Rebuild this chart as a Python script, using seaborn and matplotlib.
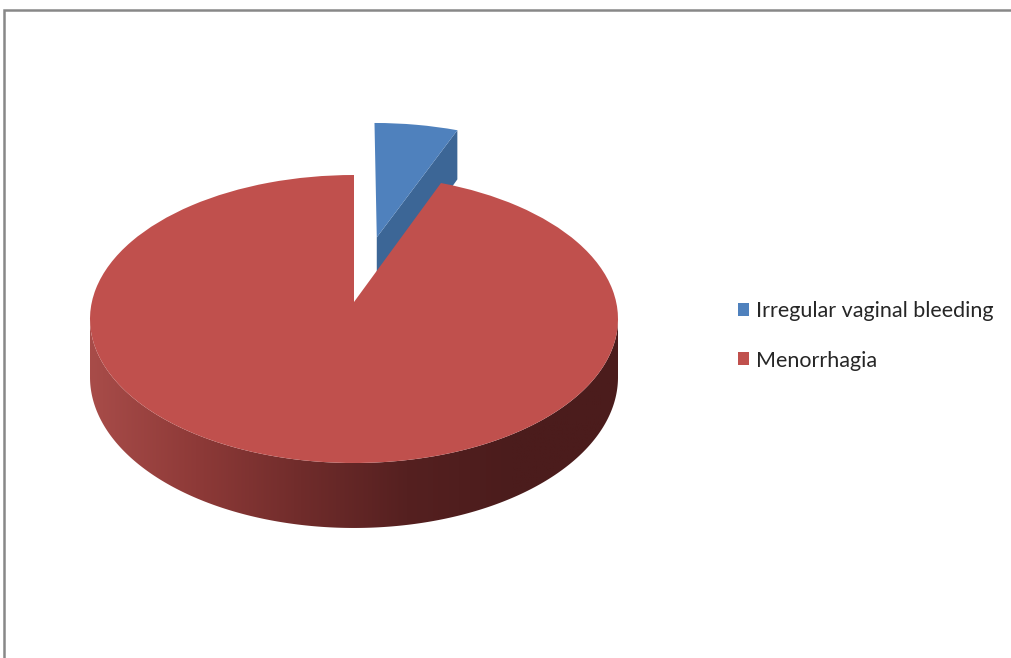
import numpy as np
import matplotlib
matplotlib.use('Agg')
import matplotlib.pyplot as plt
import seaborn as sns
from matplotlib.patches import Polygon, Rectangle
from matplotlib.colors import LinearSegmentedColormap
from matplotlib.transforms import Transform

# data
labels = ['Irregular vaginal bleeding', 'Menorrhagia']
values = [6, 94]
colors = ['#4F81BD', '#C0504D']
explode = [0.49, 0]   # fraction of radius

sns.set_theme(style='white')
plt.rcParams['font.family'] = ['Lato', 'DejaVu Sans']

W, H = 1012, 658
fig = plt.figure(figsize=(W / 100, H / 100), dpi=100)
ax = fig.add_axes([0, 0, 1, 1])
ax.set_xlim(0, W)
ax.set_ylim(H, 0)
ax.set_autoscale_on(False)

# perspective of the tilted disc (pixels): far edge, centre, near edge of the top face
top_y, mid_y, near_y = 175, 302, 463
cx = 354
c = (2 * mid_y - top_y - near_y) / (top_y - near_y)
a = top_y * (c + 1) - mid_y
K = 264 * np.sqrt(1 - c ** 2)
hz = 57.3   # thickness of the disc at the centre line


def project(X, Y, d=0.0):
    w = 1 + c * Y
    return cx + K * X / w, (a * Y + mid_y + hz * d) / w


class Tilt(Transform):
    input_dims = output_dims = 2

    def transform_non_affine(self, pts):
        pts = np.asarray(pts, dtype=float)
        x, y = project(pts[:, 0], pts[:, 1])
        return np.column_stack([x, y])


tilt = Tilt()

wedges, _ = ax.pie(values, colors=colors, explode=explode, radius=1, center=(0, 0),
                   startangle=90, counterclock=False, wedgeprops=dict(linewidth=0), frame=True)
for w in wedges:
    w.set_transform(tilt + ax.transData)

ax.set_xlim(0, W)
ax.set_ylim(H, 0)
ax.set_aspect('auto')

wall_cmap = LinearSegmentedColormap.from_list(
    'wall', ['#A84C49', '#8E3A38', '#702C2B', '#552020', '#4B1C1C', '#4B1C1C'])
face_dark = {0: '#3C6696', 1: '#6E2B2B'}

for i, w in enumerate(wedges):
    x0, y0 = w.center
    t1, t2 = w.theta1, w.theta2
    # front wall (part of the rim facing the viewer)
    ang = np.radians(np.linspace(t1, t2, 800))
    front = ang[np.sin(ang) <= -c]
    if len(front) > 1:
        X = x0 + np.cos(front)
        Y = y0 + np.sin(front)
        xt, yt = project(X, Y)
        xb, yb = project(X, Y, 1.0)
        pts = np.vstack([np.column_stack([xt, yt]),
                         np.column_stack([xb[::-1], yb[::-1]])])
        wall = Polygon(pts, closed=True, facecolor='none', edgecolor='none')
        ax.add_patch(wall)
        grad = np.linspace(0, 1, 256).reshape(1, -1)
        im = ax.imshow(grad, extent=[pts[:, 0].min(), pts[:, 0].max(),
                                     pts[:, 1].max(), pts[:, 1].min()],
                       aspect='auto', cmap=wall_cmap, zorder=2)
        im.set_clip_path(wall)
    # cut face along the first edge if it turns toward the viewer
    t = np.radians(t1)
    if np.cos(t) > 1e-6:
        ex, ey = x0 + np.cos(t), y0 + np.sin(t)
        corners = [project(x0, y0), project(ex, ey), project(ex, ey, 1.0), project(x0, y0, 1.0)]
        face = Polygon(corners, closed=True, facecolor=face_dark[i], edgecolor='none', zorder=0.9)
        ax.add_patch(face)

wedges[0].set_zorder(1)
wedges[1].set_zorder(3)

ax.set_xlim(0, W)
ax.set_ylim(H, 0)
ax.axis('off')

ax.legend(wedges, labels, loc='center left', bbox_to_anchor=(729 / W, 1 - 336 / H),
          frameon=False, fontsize=15.5, handlelength=0.55, handleheight=0.55,
          handletextpad=0.3, labelspacing=1.35, borderaxespad=0)

fig.add_artist(Rectangle((4 / W, -0.1), 1.2, (H - 10) / H + 0.1, transform=fig.transFigure,
                         fill=False, edgecolor='#888888', linewidth=1.8))

fig.savefig('out.png', dpi=100)
